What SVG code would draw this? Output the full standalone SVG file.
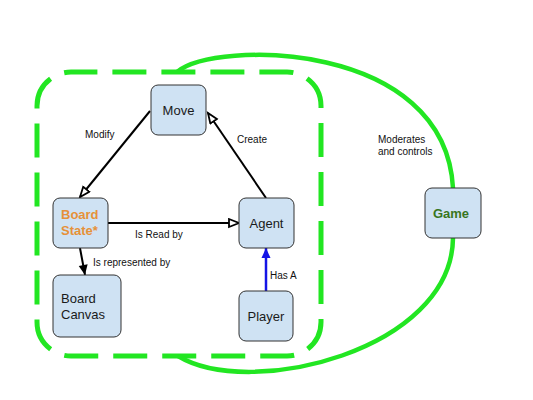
<svg xmlns="http://www.w3.org/2000/svg" width="533" height="400" viewBox="0 0 533 400">
<style>
.node{fill:#cfe2f3;stroke:#333;stroke-width:1}
.nt{font-family:"Liberation Sans",Arial,sans-serif;font-size:13px;fill:#1a1a1a}
.lbl{font-family:"Liberation Sans",Arial,sans-serif;font-size:10px;fill:#111}
.edge{stroke:#000;stroke-width:2;fill:none}
.green{stroke:#22e622;fill:none}
</style>
<defs>
<marker id="open" markerUnits="userSpaceOnUse" markerWidth="14" markerHeight="12" refX="11" refY="5" orient="auto">
<path d="M1,1 L11,5 L1,9 Z" fill="#fff" stroke="#000" stroke-width="1.8"/>
</marker>
<marker id="solid" markerUnits="userSpaceOnUse" markerWidth="14" markerHeight="12" refX="11" refY="5" orient="auto">
<path d="M1,0.5 L11,5 L1,9.5 Z" fill="#000"/>
</marker>
<marker id="blue" markerUnits="userSpaceOnUse" markerWidth="14" markerHeight="12" refX="11" refY="5" orient="auto">
<path d="M1,0.5 L11,5 L1,9.5 Z" fill="#1414e6"/>
</marker>
</defs>
<rect width="533" height="400" fill="#fff"/>
<g id="boundaries">
<rect class="green" x="37" y="72" width="284" height="284" rx="34" ry="34" stroke-width="5" stroke-dasharray="34 15" stroke-dashoffset="7.6"/>
<path class="green" stroke-width="4.5" d="M177,72 C215,40 445,40 453,188"/>
<path class="green" stroke-width="4.5" d="M453,238 C452,350 250,400 178,356"/>
</g>
<g id="connectors">
<line class="edge" x1="150" y1="111" x2="80" y2="197" marker-end="url(#open)"/>
<line class="edge" x1="266" y1="198" x2="208" y2="113" marker-end="url(#open)"/>
<line class="edge" x1="108" y1="223" x2="239" y2="223" marker-end="url(#open)"/>
<line class="edge" x1="80" y1="248" x2="85" y2="275" marker-end="url(#solid)"/>
<line x1="266" y1="291" x2="266" y2="248" stroke="#1414e6" stroke-width="2.5" marker-end="url(#blue)"/>
<text class="lbl" x="85" y="138">Modify</text>
<text class="lbl" x="237" y="143">Create</text>
<text class="lbl" x="135" y="238">Is Read by</text>
<text class="lbl" x="93" y="266">Is represented by</text>
<text class="lbl" x="270" y="279">Has A</text>
<text class="lbl" x="378" y="143">Moderates</text>
<text class="lbl" x="378" y="155">and controls</text>
</g>
<g id="move">
<rect class="node" x="151" y="85" width="55" height="50" rx="7"/>
<text class="nt" x="178.5" y="115" text-anchor="middle">Move</text>
</g>
<g id="board-state">
<rect class="node" x="53" y="198" width="55" height="50" rx="7"/>
<text class="nt" x="61" y="219" font-weight="bold" style="fill:#e69138">Board</text>
<text class="nt" x="61" y="235" font-weight="bold" style="fill:#e69138">State*</text>
</g>
<g id="agent">
<rect class="node" x="239" y="198" width="55" height="50" rx="7"/>
<text class="nt" x="266.5" y="228" text-anchor="middle">Agent</text>
</g>
<g id="board-canvas">
<rect class="node" x="53" y="275" width="68" height="62" rx="7"/>
<text class="nt" x="61" y="303">Board</text>
<text class="nt" x="61" y="319">Canvas</text>
</g>
<g id="player">
<rect class="node" x="239" y="291" width="54" height="50" rx="7"/>
<text class="nt" x="266" y="321" text-anchor="middle">Player</text>
</g>
<g id="game">
<rect class="node" x="425" y="188" width="56" height="50" rx="7"/>
<text class="nt" x="451" y="218" text-anchor="middle" font-weight="bold" style="fill:#38761d">Game</text>
</g>
</svg>
